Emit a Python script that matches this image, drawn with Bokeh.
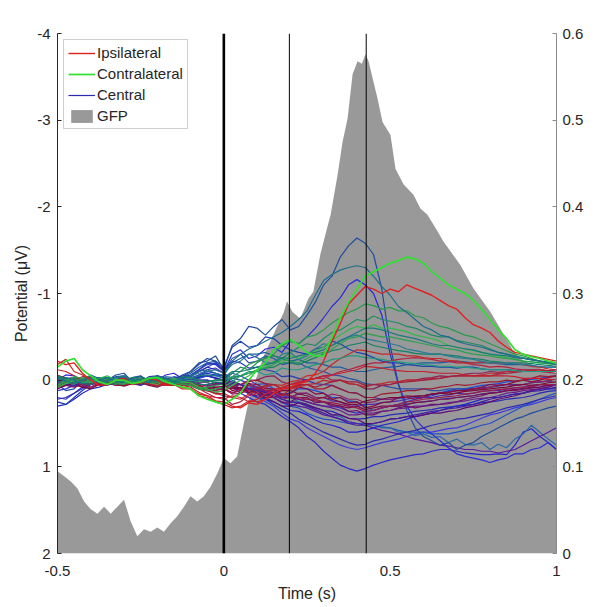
from bokeh.plotting import figure
from bokeh.models import Range1d, LinearAxis, FixedTicker, Span, Label, Legend, LegendItem
from bokeh.embed import file_html
from bokeh.resources import INLINE
import math

# ---------------- data ----------------
times = [-0.5, -0.475, -0.45, -0.425, -0.4, -0.375, -0.35, -0.325, -0.3, -0.275,
         -0.25, -0.225, -0.2, -0.175, -0.15, -0.125, -0.1, -0.075, -0.05, -0.025,
         0.0, 0.025, 0.05, 0.075, 0.1, 0.125, 0.15, 0.175, 0.2, 0.225,
         0.25, 0.275, 0.3, 0.325, 0.35, 0.375, 0.4, 0.425, 0.45, 0.475,
         0.5, 0.525, 0.55, 0.575, 0.6, 0.625, 0.65, 0.675, 0.7, 0.725,
         0.75, 0.775, 0.8, 0.825, 0.85, 0.875, 0.9, 0.925, 0.95, 0.975, 1.0]

# channel potentials (uV), one list per channel
ch01 = [0.05, 0.12, 0.1, 0.0, -0.05, 0.04, 0.0, -0.06, -0.08, 0.02,
        0.02, -0.04, -0.05, 0.03, 0.05, -0.04, -0.1, -0.2, -0.22, -0.28,
        -0.12, -0.4, -0.48, -0.62, -0.6, -0.52, -0.62, -0.7, -0.58, -0.62,
        -0.75, -0.9, -1.1, -1.2, -1.42, -1.55, -1.64, -1.58, -1.45, -1.05,
        -0.4, 0.05, 0.35, 0.55, 0.65, 0.7, 0.75, 0.72, 0.8, 0.75,
        0.72, 0.65, 0.6, 0.55, 0.5, 0.45, 0.42, 0.38, 0.35, 0.32, 0.3]
ch02 = [0.0, -0.06, -0.05, 0.02, 0.05, 0.0, -0.02, 0.04, 0.03, -0.03,
        -0.05, 0.02, 0.0, -0.06, -0.08, -0.02, -0.05, -0.12, -0.2, -0.18,
        -0.1, -0.3, -0.35, -0.25, -0.28, -0.36, -0.38, -0.32, -0.45, -0.42,
        -0.5, -0.6, -0.72, -0.85, -0.95, -1.1, -1.16, -1.1, -1.0, -0.75,
        -0.3, 0.05, 0.3, 0.45, 0.55, 0.62, 0.7, 0.78, 0.85, 0.88,
        0.9, 0.92, 0.95, 0.92, 0.9, 0.85, 0.85, 0.8, 0.78, 0.72, 0.8]
ch03 = [-0.22, -0.18, -0.2, -0.08, 0.0, 0.06, 0.05, 0.0, -0.02, 0.05,
        0.03, -0.02, 0.0, 0.06, 0.05, 0.1, 0.1, 0.16, 0.18, 0.24,
        0.25, 0.3, 0.32, 0.26, 0.28, 0.22, 0.15, 0.1, 0.08, 0.04,
        0.02, -0.08, -0.22, -0.45, -0.65, -0.88, -0.98, -1.08, -1.05, -1.0,
        -1.05, -1.02, -1.1, -1.06, -1.02, -0.98, -0.92, -0.86, -0.82, -0.72,
        -0.64, -0.6, -0.55, -0.45, -0.38, -0.32, -0.3, -0.28, -0.26, -0.24, -0.22]
ch04 = [-0.15, -0.22, -0.25, -0.12, -0.05, 0.02, 0.05, 0.0, 0.0, 0.04,
        0.02, -0.02, -0.03, 0.02, 0.05, 0.08, 0.1, 0.18, 0.22, 0.25,
        0.28, 0.22, 0.15, 0.0, -0.12, -0.2, -0.35, -0.42, -0.47, -0.4,
        -0.32, -0.28, -0.28, -0.5, -0.72, -0.9, -1.05, -1.2, -1.25, -1.3,
        -1.35, -1.38, -1.42, -1.4, -1.35, -1.25, -1.18, -1.1, -1.05, -1.0,
        -0.92, -0.82, -0.7, -0.58, -0.48, -0.35, -0.3, -0.27, -0.25, -0.22, -0.2]
ch05 = [0.02, -0.03, 0.0, 0.04, 0.05, 0.0, -0.03, 0.02, 0.02, -0.02,
        0.0, 0.03, -0.05, -0.02, 0.02, -0.03, -0.05, -0.1, -0.12, -0.08,
        -0.05, -0.22, -0.3, -0.36, -0.4, -0.45, -0.5, -0.55, -0.62, -0.7,
        -0.8, -0.98, -1.15, -1.22, -1.27, -1.3, -1.32, -1.3, -1.2, -1.08,
        -0.98, -0.85, -0.78, -0.7, -0.62, -0.58, -0.52, -0.5, -0.45, -0.42,
        -0.4, -0.38, -0.35, -0.32, -0.3, -0.27, -0.25, -0.24, -0.22, -0.2, -0.18]
ch06 = [0.05, 0.0, -0.03, 0.03, 0.02, -0.02, 0.0, 0.04, 0.05, 0.0,
        -0.02, 0.02, 0.03, -0.01, 0.0, 0.04, 0.05, 0.1, 0.08, 0.06,
        0.05, -0.04, -0.1, -0.18, -0.22, -0.25, -0.3, -0.4, -0.45, -0.42,
        -0.5, -0.52, -0.58, -0.66, -0.72, -0.78, -0.82, -0.88, -0.86, -0.82,
        -0.84, -0.8, -0.8, -0.74, -0.72, -0.66, -0.62, -0.6, -0.56, -0.52,
        -0.5, -0.46, -0.42, -0.38, -0.34, -0.3, -0.28, -0.25, -0.22, -0.2, -0.2]
ch07 = [-0.03, 0.0, 0.02, -0.02, -0.05, 0.0, 0.03, 0.05, 0.0, 0.02,
        0.04, 0.0, -0.02, 0.02, 0.0, -0.04, -0.03, 0.0, 0.02, 0.0,
        0.0, -0.08, -0.15, -0.12, -0.2, -0.26, -0.28, -0.25, -0.32, -0.38,
        -0.42, -0.4, -0.48, -0.55, -0.58, -0.64, -0.7, -0.68, -0.74, -0.7,
        -0.68, -0.66, -0.62, -0.6, -0.56, -0.52, -0.5, -0.5, -0.46, -0.44,
        -0.42, -0.4, -0.36, -0.32, -0.3, -0.28, -0.26, -0.24, -0.22, -0.2, -0.2]
ch08 = [0.08, 0.04, 0.0, 0.02, 0.03, -0.02, -0.05, 0.0, 0.02, 0.04,
        0.0, 0.03, 0.05, 0.0, -0.02, 0.02, 0.03, 0.08, 0.1, 0.14,
        0.12, 0.06, 0.0, -0.05, -0.12, -0.15, -0.22, -0.2, -0.28, -0.25,
        -0.3, -0.34, -0.38, -0.46, -0.52, -0.58, -0.62, -0.6, -0.64, -0.6,
        -0.6, -0.58, -0.56, -0.52, -0.5, -0.48, -0.45, -0.4, -0.38, -0.36,
        -0.34, -0.32, -0.3, -0.28, -0.26, -0.24, -0.22, -0.21, -0.2, -0.19, -0.18]
ch09 = [0.0, 0.03, 0.05, 0.0, -0.02, 0.03, 0.02, -0.03, -0.04, 0.0,
        0.03, 0.0, 0.0, -0.04, -0.03, 0.0, -0.05, -0.08, -0.1, -0.12,
        -0.08, -0.18, -0.22, -0.3, -0.26, -0.2, -0.2, -0.3, -0.32, -0.24,
        -0.28, -0.36, -0.42, -0.4, -0.46, -0.5, -0.52, -0.48, -0.46, -0.44,
        -0.42, -0.4, -0.36, -0.34, -0.32, -0.3, -0.3, -0.28, -0.26, -0.25,
        -0.24, -0.22, -0.2, -0.2, -0.2, -0.19, -0.18, -0.17, -0.16, -0.15, -0.15]
ch10 = [-0.05, -0.02, 0.0, 0.04, 0.03, 0.0, -0.02, 0.02, 0.0, -0.03,
        -0.04, 0.0, 0.02, 0.0, 0.0, 0.03, 0.02, 0.05, 0.05, 0.02,
        0.03, -0.02, -0.05, -0.08, -0.1, -0.14, -0.15, -0.2, -0.2, -0.18,
        -0.22, -0.26, -0.3, -0.34, -0.36, -0.4, -0.42, -0.44, -0.4, -0.38,
        -0.36, -0.34, -0.33, -0.31, -0.3, -0.3, -0.3, -0.29, -0.28, -0.26,
        -0.25, -0.24, -0.22, -0.21, -0.2, -0.2, -0.2, -0.19, -0.18, -0.17, -0.16]
ch11 = [0.25, 0.28, 0.2, 0.12, 0.05, 0.02, 0.0, -0.04, -0.05, 0.0,
        0.02, -0.02, -0.03, 0.02, 0.0, -0.06, -0.1, -0.18, -0.25, -0.22,
        -0.15, -0.38, -0.45, -0.38, -0.4, -0.5, -0.48, -0.4, -0.35, -0.32,
        -0.3, -0.36, -0.38, -0.45, -0.42, -0.36, -0.32, -0.3, -0.26, -0.22,
        -0.2, -0.2, -0.18, -0.17, -0.16, -0.16, -0.15, -0.15, -0.14, -0.15,
        -0.15, -0.13, -0.12, -0.12, -0.12, -0.11, -0.1, -0.1, -0.1, -0.11, -0.12]
ch12 = [0.0, 0.03, 0.05, 0.0, -0.02, 0.02, 0.03, 0.0, 0.0, 0.04,
        0.02, 0.0, 0.05, 0.02, 0.0, 0.04, 0.05, 0.1, 0.12, 0.16,
        0.15, 0.2, 0.22, 0.16, 0.12, 0.08, 0.05, 0.06, 0.02, 0.0,
        -0.05, -0.06, -0.1, -0.18, -0.25, -0.3, -0.35, -0.34, -0.32, -0.3,
        -0.3, -0.3, -0.28, -0.28, -0.26, -0.25, -0.25, -0.23, -0.22, -0.2,
        -0.2, -0.21, -0.2, -0.2, -0.2, -0.19, -0.18, -0.16, -0.15, -0.13, -0.12]
ch13 = [0.05, 0.02, 0.0, 0.04, 0.05, 0.0, 0.02, 0.05, 0.06, 0.02,
        0.0, 0.03, 0.04, 0.0, 0.02, 0.06, 0.05, 0.1, 0.08, 0.04,
        0.05, 0.12, 0.1, 0.04, 0.05, 0.1, 0.1, 0.18, 0.15, 0.08,
        0.1, 0.16, 0.15, 0.22, 0.2, 0.26, 0.25, 0.32, 0.3, 0.26,
        0.25, 0.2, 0.2, 0.22, 0.2, 0.16, 0.15, 0.14, 0.12, 0.12,
        0.1, 0.08, 0.05, 0.06, 0.05, 0.02, 0.0, 0.02, 0.0, -0.03, -0.05]
ch14 = [0.1, 0.06, 0.05, 0.08, 0.08, 0.04, 0.03, 0.06, 0.05, 0.02,
        0.0, 0.04, 0.06, 0.02, 0.02, 0.05, 0.05, 0.08, 0.1, 0.12,
        0.08, 0.02, 0.05, 0.12, 0.1, 0.15, 0.2, 0.26, 0.25, 0.2,
        0.2, 0.26, 0.25, 0.3, 0.3, 0.36, 0.35, 0.4, 0.4, 0.36,
        0.35, 0.32, 0.3, 0.32, 0.3, 0.28, 0.28, 0.27, 0.25, 0.22,
        0.2, 0.18, 0.15, 0.14, 0.12, 0.12, 0.1, 0.08, 0.05, 0.06, 0.05]
ch15 = [-0.05, -0.02, 0.0, -0.04, -0.03, 0.0, 0.02, 0.04, 0.05, 0.02,
        0.0, 0.02, 0.03, 0.06, 0.05, 0.02, 0.02, 0.06, 0.1, 0.14,
        0.12, 0.08, 0.05, 0.02, 0.0, 0.04, 0.05, 0.1, 0.1, 0.06,
        0.05, 0.1, 0.1, 0.06, 0.1, 0.14, 0.15, 0.2, 0.2, 0.16,
        0.15, 0.14, 0.12, 0.12, 0.1, 0.1, 0.08, 0.07, 0.05, 0.06,
        0.05, 0.03, 0.02, 0.02, 0.0, 0.01, 0.0, -0.02, -0.05, -0.04, -0.05]
ch16 = [0.0, 0.04, 0.05, 0.02, 0.02, 0.06, 0.05, 0.02, 0.0, 0.03,
        0.04, 0.0, 0.0, 0.04, 0.05, 0.02, 0.03, 0.06, 0.05, 0.03,
        0.05, 0.08, 0.1, 0.15, 0.18, 0.2, 0.25, 0.3, 0.3, 0.26,
        0.28, 0.32, 0.35, 0.4, 0.4, 0.44, 0.45, 0.5, 0.5, 0.48,
        0.45, 0.44, 0.42, 0.42, 0.4, 0.38, 0.38, 0.36, 0.35, 0.32,
        0.3, 0.28, 0.25, 0.22, 0.2, 0.18, 0.15, 0.12, 0.1, 0.08, 0.05]
ch17 = [0.03, 0.0, -0.02, 0.02, 0.0, 0.03, 0.04, 0.0, -0.02, 0.0,
        0.02, 0.04, 0.0, 0.0, 0.03, 0.02, 0.0, 0.03, 0.02, 0.0,
        0.0, 0.06, 0.05, 0.0, 0.0, -0.04, -0.05, 0.02, 0.05, 0.02,
        0.0, -0.02, -0.05, 0.0, 0.0, 0.04, 0.05, 0.1, 0.1, 0.06,
        0.05, 0.02, 0.0, 0.0, -0.02, -0.03, -0.05, -0.04, -0.05, -0.07,
        -0.08, -0.08, -0.1, -0.09, -0.1, -0.11, -0.12, -0.12, -0.12, -0.11, -0.1]
ch18 = [0.02, 0.04, 0.05, 0.02, 0.0, 0.02, 0.03, 0.06, 0.05, 0.02,
        0.0, 0.03, 0.02, 0.05, 0.05, 0.02, 0.03, 0.1, 0.15, 0.2,
        0.2, 0.28, 0.25, 0.18, 0.15, 0.14, 0.1, 0.1, 0.05, 0.02,
        0.0, -0.02, -0.05, -0.06, -0.1, -0.12, -0.15, -0.18, -0.2, -0.2,
        -0.22, -0.24, -0.25, -0.26, -0.25, -0.24, -0.22, -0.22, -0.2, -0.2,
        -0.18, -0.17, -0.15, -0.16, -0.15, -0.13, -0.12, -0.11, -0.1, -0.09, -0.08]
ch19 = [0.02, 0.0, 0.05, 0.03, 0.0, -0.03, -0.03, 0.0, 0.02, 0.0,
        0.0, 0.03, -0.02, 0.0, 0.03, 0.02, 0.0, -0.04, -0.05, -0.02,
        0.0, 0.08, 0.1, 0.1, 0.15, 0.22, 0.25, 0.3, 0.35, 0.36,
        0.4, 0.46, 0.5, 0.52, 0.55, 0.6, 0.6, 0.58, 0.55, 0.52,
        0.5, 0.48, 0.45, 0.42, 0.4, 0.38, 0.35, 0.32, 0.3, 0.28,
        0.25, 0.22, 0.2, 0.2, 0.18, 0.16, 0.15, 0.12, 0.1, 0.1, 0.1]
ch20 = [0.3, 0.28, 0.22, 0.15, 0.1, 0.08, 0.05, 0.02, 0.0, 0.03,
        0.03, 0.0, -0.02, 0.0, 0.02, -0.02, 0.0, -0.05, -0.08, -0.06,
        -0.05, 0.08, 0.15, 0.2, 0.25, 0.28, 0.35, 0.42, 0.48, 0.55,
        0.65, 0.72, 0.82, 0.9, 0.98, 1.02, 1.05, 1.02, 0.98, 0.95,
        0.92, 0.9, 0.88, 0.86, 0.85, 0.82, 0.8, 0.8, 0.82, 0.84,
        0.85, 0.86, 0.86, 0.85, 0.86, 0.75, 0.6, 0.56, 0.65, 0.72, 0.8]
ch21 = [0.2, 0.22, 0.15, 0.1, 0.05, 0.02, 0.0, 0.04, 0.03, 0.0,
        -0.02, 0.02, 0.0, 0.03, 0.02, -0.02, -0.03, -0.06, -0.1, -0.08,
        -0.05, 0.04, 0.1, 0.16, 0.2, 0.25, 0.3, 0.38, 0.45, 0.48,
        0.55, 0.6, 0.65, 0.7, 0.75, 0.78, 0.8, 0.78, 0.75, 0.72,
        0.7, 0.68, 0.65, 0.62, 0.6, 0.6, 0.58, 0.56, 0.55, 0.52,
        0.48, 0.44, 0.4, 0.38, 0.35, 0.32, 0.3, 0.28, 0.25, 0.22, 0.2]
ch22 = [0.0, 0.02, 0.03, 0.0, -0.02, 0.0, 0.02, 0.04, 0.03, 0.0,
        0.03, 0.02, 0.0, -0.02, -0.02, 0.0, 0.02, -0.04, -0.1, -0.08,
        -0.05, 0.0, 0.05, 0.1, 0.15, 0.16, 0.2, 0.26, 0.3, 0.32,
        0.38, 0.42, 0.45, 0.46, 0.48, 0.5, 0.5, 0.5, 0.52, 0.54,
        0.55, 0.58, 0.6, 0.6, 0.6, 0.62, 0.62, 0.62, 0.6, 0.58,
        0.55, 0.52, 0.5, 0.45, 0.4, 0.35, 0.3, 0.26, 0.22, 0.18, 0.15]
ch23 = [0.05, 0.02, 0.0, 0.02, 0.03, 0.0, -0.02, -0.03, 0.0, 0.02,
        0.02, 0.0, -0.03, -0.02, 0.0, 0.02, 0.02, 0.0, 0.0, 0.03,
        0.02, 0.04, 0.05, 0.08, 0.1, 0.12, 0.15, 0.18, 0.2, 0.25,
        0.28, 0.32, 0.35, 0.4, 0.42, 0.48, 0.5, 0.52, 0.52, 0.55,
        0.55, 0.6, 0.6, 0.64, 0.62, 0.66, 0.65, 0.72, 0.68, 0.74,
        0.75, 0.72, 0.8, 0.74, 0.78, 0.68, 0.62, 0.52, 0.6, 0.68, 0.75]
ch24 = [0.05, 0.03, 0.02, 0.05, 0.05, 0.02, 0.0, 0.02, 0.03, 0.0,
        0.0, 0.03, 0.05, 0.03, 0.02, 0.0, 0.0, 0.02, 0.03, 0.05,
        0.05, 0.08, 0.1, 0.12, 0.15, 0.18, 0.2, 0.25, 0.28, 0.3,
        0.32, 0.36, 0.4, 0.42, 0.45, 0.48, 0.5, 0.52, 0.55, 0.58,
        0.6, 0.62, 0.65, 0.68, 0.7, 0.72, 0.75, 0.76, 0.78, 0.8,
        0.8, 0.82, 0.82, 0.84, 0.82, 0.8, 0.75, 0.7, 0.65, 0.6, 0.55]
ch25 = [0.0, -0.02, -0.03, 0.0, 0.02, 0.0, 0.0, 0.03, 0.04, 0.02,
        0.0, 0.02, 0.02, 0.0, -0.02, 0.0, 0.0, 0.03, 0.02, 0.0,
        0.0, 0.06, 0.05, 0.06, 0.1, 0.14, 0.15, 0.2, 0.2, 0.16,
        0.15, 0.2, 0.2, 0.24, 0.25, 0.3, 0.3, 0.28, 0.28, 0.26,
        0.25, 0.24, 0.22, 0.2, 0.2, 0.2, 0.18, 0.17, 0.15, 0.16,
        0.15, 0.13, 0.12, 0.12, 0.1, 0.09, 0.08, 0.06, 0.05, 0.06, 0.05]
ch26 = [-0.02, 0.0, 0.03, 0.02, 0.0, 0.03, 0.05, 0.02, 0.0, 0.0,
        0.02, 0.04, 0.04, 0.0, 0.0, 0.02, 0.03, -0.02, -0.05, -0.06,
        -0.02, -0.08, -0.05, 0.0, 0.05, 0.04, 0.1, 0.16, 0.15, 0.1,
        0.1, 0.12, 0.15, 0.2, 0.2, 0.24, 0.25, 0.3, 0.35, 0.32,
        0.3, 0.28, 0.25, 0.22, 0.2, 0.18, 0.15, 0.12, 0.1, 0.1,
        0.08, 0.06, 0.05, 0.04, 0.02, 0.01, 0.0, -0.01, -0.02, -0.04, -0.05]
ch27 = [0.08, 0.05, 0.03, 0.06, 0.05, 0.02, 0.0, 0.03, 0.04, 0.0,
        0.02, 0.05, 0.05, 0.02, 0.0, 0.03, 0.04, 0.08, 0.05, 0.08,
        0.1, 0.16, 0.15, 0.1, 0.1, 0.14, 0.15, 0.22, 0.2, 0.15,
        0.15, 0.2, 0.2, 0.16, 0.18, 0.22, 0.22, 0.26, 0.25, 0.22,
        0.22, 0.2, 0.2, 0.18, 0.18, 0.16, 0.15, 0.14, 0.12, 0.12,
        0.1, 0.1, 0.08, 0.06, 0.05, 0.06, 0.05, 0.03, 0.02, 0.01, 0.0]
ch28 = [-0.02, 0.0, 0.02, 0.03, 0.0, -0.02, -0.03, 0.0, 0.02, 0.0,
        0.0, -0.02, -0.02, 0.01, 0.03, 0.02, 0.0, 0.02, 0.02, 0.0,
        0.0, -0.04, -0.05, -0.1, -0.1, -0.06, -0.08, -0.14, -0.12, -0.12,
        -0.15, -0.18, -0.2, -0.24, -0.25, -0.28, -0.28, -0.26, -0.25, -0.24,
        -0.22, -0.21, -0.2, -0.19, -0.18, -0.17, -0.16, -0.16, -0.15, -0.15,
        -0.14, -0.13, -0.12, -0.12, -0.12, -0.11, -0.1, -0.1, -0.1, -0.1, -0.1]
ch29 = [0.0, 0.02, -0.02, 0.0, 0.03, 0.02, 0.0, -0.03, -0.03, 0.0,
        0.02, 0.0, 0.0, -0.02, -0.02, -0.05, -0.05, -0.1, -0.15, -0.2,
        -0.1, -0.25, -0.3, -0.2, -0.22, -0.28, -0.25, -0.18, -0.2, -0.2,
        -0.15, -0.12, -0.1, -0.06, -0.05, -0.02, 0.0, 0.04, 0.05, 0.06,
        0.08, 0.1, 0.1, 0.1, 0.1, 0.12, 0.12, 0.1, 0.1, 0.1,
        0.1, 0.1, 0.08, 0.07, 0.05, 0.06, 0.05, 0.03, 0.02, 0.01, 0.0]
ch30 = [-0.18, -0.24, -0.1, -0.06, 0.0, 0.05, 0.03, 0.0, 0.0, 0.03,
        0.02, 0.0, 0.04, 0.06, 0.05, 0.08, 0.1, 0.18, 0.2, 0.25,
        0.28, 0.32, 0.3, 0.24, 0.25, 0.22, 0.15, 0.18, 0.1, 0.08,
        0.05, 0.04, 0.0, 0.02, 0.0, 0.04, 0.05, 0.08, 0.05, 0.04,
        0.02, 0.02, 0.0, 0.0, 0.0, -0.02, -0.02, -0.04, -0.05, -0.05,
        -0.05, -0.06, -0.08, -0.08, -0.1, -0.1, -0.1, -0.11, -0.12, -0.11, -0.1]
ch31 = [0.02, 0.04, 0.0, 0.02, 0.05, 0.02, 0.0, 0.02, 0.03, 0.0,
        -0.02, 0.0, 0.0, 0.03, 0.03, 0.0, 0.0, -0.03, -0.05, -0.03,
        0.0, 0.02, 0.05, 0.1, 0.1, 0.12, 0.15, 0.22, 0.25, 0.26,
        0.3, 0.32, 0.35, 0.36, 0.4, 0.44, 0.45, 0.44, 0.42, 0.42,
        0.4, 0.39, 0.38, 0.36, 0.35, 0.34, 0.32, 0.31, 0.3, 0.29,
        0.28, 0.26, 0.25, 0.24, 0.22, 0.21, 0.2, 0.18, 0.15, 0.13, 0.12]
ch32 = [0.05, 0.06, 0.08, 0.05, 0.03, 0.06, 0.05, 0.02, 0.02, 0.05,
        0.05, 0.02, 0.03, 0.06, 0.06, 0.03, 0.04, 0.08, 0.08, 0.1,
        0.1, 0.14, 0.12, 0.1, 0.15, 0.2, 0.2, 0.16, 0.18, 0.22,
        0.22, 0.24, 0.25, 0.28, 0.3, 0.32, 0.3, 0.34, 0.32, 0.3,
        0.3, 0.3, 0.28, 0.26, 0.25, 0.24, 0.22, 0.22, 0.2, 0.19,
        0.18, 0.16, 0.15, 0.14, 0.12, 0.11, 0.1, 0.09, 0.08, 0.06, 0.05]
ch33 = [0.04, 0.02, -0.02, 0.0, 0.03, 0.05, 0.06, 0.02, 0.0, 0.02,
        0.03, 0.0, -0.03, 0.0, 0.04, 0.05, 0.02, 0.04, 0.06, 0.05,
        0.03, 0.02, 0.05, 0.1, 0.1, 0.12, 0.15, 0.2, 0.2, 0.22,
        0.25, 0.28, 0.3, 0.32, 0.35, 0.4, 0.4, 0.38, 0.38, 0.36,
        0.35, 0.33, 0.32, 0.3, 0.3, 0.29, 0.28, 0.26, 0.25, 0.24,
        0.22, 0.21, 0.2, 0.18, 0.15, 0.14, 0.12, 0.11, 0.1, 0.08, 0.05]
ch34 = [-0.06, -0.02, 0.02, 0.0, -0.04, 0.0, 0.03, 0.05, 0.06, 0.02,
        -0.02, 0.02, 0.04, 0.02, 0.0, 0.03, 0.06, 0.1, 0.12, 0.15,
        0.18, 0.2, 0.15, 0.12, 0.1, 0.06, 0.05, 0.1, 0.08, 0.05,
        0.05, 0.08, 0.05, 0.02, 0.0, 0.02, 0.02, 0.06, 0.05, 0.06,
        0.05, 0.03, 0.02, 0.01, 0.0, -0.01, -0.02, -0.04, -0.05, -0.05,
        -0.05, -0.05, -0.05, -0.07, -0.08, -0.09, -0.1, -0.1, -0.1, -0.11, -0.12]
ch35 = [0.12, 0.1, 0.06, 0.02, -0.02, 0.0, 0.04, 0.02, -0.03, 0.0,
        0.02, 0.04, 0.05, 0.0, -0.04, -0.02, 0.0, -0.06, -0.12, -0.14,
        -0.08, -0.02, 0.0, 0.04, 0.08, 0.08, 0.12, 0.18, 0.2, 0.22,
        0.25, 0.28, 0.3, 0.3, 0.32, 0.36, 0.38, 0.36, 0.35, 0.32,
        0.3, 0.3, 0.28, 0.26, 0.25, 0.24, 0.22, 0.21, 0.2, 0.19,
        0.18, 0.16, 0.15, 0.14, 0.12, 0.11, 0.1, 0.09, 0.08, 0.06, 0.05]
ch36 = [-0.04, 0.0, 0.03, 0.0, -0.06, -0.02, 0.02, 0.0, -0.03, 0.0,
        0.04, 0.0, -0.05, -0.02, 0.02, -0.03, -0.08, -0.15, -0.2, -0.22,
        -0.1, -0.2, -0.25, -0.3, -0.3, -0.32, -0.28, -0.25, -0.22, -0.24,
        -0.2, -0.2, -0.18, -0.15, -0.15, -0.12, -0.1, -0.1, -0.12, -0.14,
        -0.15, -0.16, -0.18, -0.19, -0.2, -0.2, -0.2, -0.21, -0.22, -0.21,
        -0.2, -0.2, -0.2, -0.19, -0.18, -0.18, -0.18, -0.17, -0.15, -0.15, -0.15]
ch37 = [0.06, 0.02, -0.04, -0.02, 0.02, 0.0, -0.02, 0.02, 0.04, 0.02,
        0.0, -0.02, -0.04, 0.0, 0.03, 0.05, 0.06, 0.1, 0.12, 0.1,
        0.08, 0.02, -0.05, -0.08, -0.12, -0.14, -0.18, -0.24, -0.22, -0.2,
        -0.25, -0.3, -0.32, -0.36, -0.42, -0.48, -0.5, -0.54, -0.52, -0.5,
        -0.5, -0.48, -0.46, -0.44, -0.42, -0.4, -0.38, -0.36, -0.35, -0.32,
        -0.3, -0.29, -0.28, -0.26, -0.25, -0.24, -0.22, -0.21, -0.2, -0.19, -0.18]
ch38 = [0.08, 0.06, 0.04, 0.08, 0.1, 0.05, 0.02, 0.05, 0.07, 0.04,
        0.03, 0.06, 0.08, 0.04, 0.01, 0.04, 0.06, 0.1, 0.1, 0.08,
        0.07, 0.1, 0.08, 0.14, 0.12, 0.18, 0.15, 0.12, 0.12, 0.16,
        0.18, 0.22, 0.2, 0.22, 0.25, 0.28, 0.28, 0.24, 0.22, 0.22,
        0.2, 0.2, 0.18, 0.19, 0.18, 0.16, 0.15, 0.16, 0.15, 0.13,
        0.12, 0.11, 0.1, 0.09, 0.08, 0.06, 0.05, 0.06, 0.05, 0.03, 0.02]
ch39 = [0.22, 0.2, 0.15, 0.08, 0.04, 0.0, -0.03, 0.0, 0.02, -0.02,
        -0.04, 0.0, 0.03, 0.0, -0.02, -0.04, -0.04, -0.1, -0.15, -0.12,
        -0.08, 0.04, 0.1, 0.14, 0.2, 0.22, 0.28, 0.34, 0.38, 0.45,
        0.5, 0.55, 0.6, 0.64, 0.68, 0.72, 0.75, 0.74, 0.7, 0.68,
        0.65, 0.62, 0.6, 0.58, 0.55, 0.52, 0.5, 0.48, 0.45, 0.44,
        0.42, 0.4, 0.38, 0.35, 0.32, 0.3, 0.28, 0.25, 0.22, 0.2, 0.18]
ch40 = [0.03, 0.05, 0.07, 0.02, 0.0, 0.03, 0.05, 0.04, 0.02, 0.04,
        0.06, 0.02, -0.02, 0.02, 0.04, 0.02, 0.02, 0.0, 0.0, 0.03,
        0.04, 0.04, 0.05, 0.1, 0.12, 0.14, 0.18, 0.22, 0.25, 0.26,
        0.3, 0.34, 0.38, 0.42, 0.45, 0.5, 0.52, 0.52, 0.5, 0.48,
        0.45, 0.44, 0.42, 0.4, 0.38, 0.36, 0.35, 0.33, 0.32, 0.3,
        0.28, 0.25, 0.22, 0.2, 0.18, 0.16, 0.15, 0.13, 0.12, 0.1, 0.08]
ch41 = [-0.03, 0.01, 0.04, 0.0, -0.02, 0.0, 0.01, -0.03, -0.05, 0.0,
        0.03, 0.0, -0.02, 0.02, 0.04, 0.0, -0.02, -0.05, -0.06, -0.05,
        -0.03, -0.1, -0.1, -0.12, -0.15, -0.18, -0.2, -0.26, -0.25, -0.28,
        -0.3, -0.32, -0.35, -0.4, -0.45, -0.5, -0.55, -0.6, -0.6, -0.58,
        -0.55, -0.52, -0.5, -0.48, -0.45, -0.42, -0.4, -0.4, -0.38, -0.36,
        -0.35, -0.32, -0.3, -0.29, -0.28, -0.26, -0.25, -0.23, -0.22, -0.21, -0.2]
ch42 = [0.06, 0.04, 0.02, 0.05, 0.08, 0.04, 0.0, 0.03, 0.05, 0.04,
        0.02, 0.05, 0.07, 0.05, 0.03, 0.06, 0.06, 0.1, 0.12, 0.12,
        0.1, 0.15, 0.12, 0.06, 0.08, 0.12, 0.12, 0.16, 0.18, 0.2,
        0.22, 0.22, 0.25, 0.26, 0.28, 0.3, 0.32, 0.36, 0.35, 0.32,
        0.3, 0.28, 0.25, 0.24, 0.22, 0.21, 0.2, 0.19, 0.18, 0.16,
        0.15, 0.13, 0.12, 0.11, 0.1, 0.09, 0.08, 0.07, 0.05, 0.05, 0.05]
ch43 = [-0.05, -0.02, 0.02, 0.0, -0.03, 0.02, 0.05, 0.02, -0.02, 0.0,
        0.02, 0.0, -0.05, -0.02, 0.0, -0.04, -0.06, -0.12, -0.18, -0.2,
        -0.12, -0.22, -0.2, -0.14, -0.15, -0.12, -0.1, -0.04, -0.05, -0.02,
        0.0, 0.04, 0.05, 0.06, 0.1, 0.14, 0.15, 0.2, 0.2, 0.22,
        0.22, 0.21, 0.2, 0.19, 0.18, 0.16, 0.15, 0.13, 0.12, 0.11,
        0.1, 0.09, 0.08, 0.06, 0.05, 0.05, 0.05, 0.03, 0.02, 0.01, 0.0]
ch44 = [-0.12, -0.1, -0.05, 0.0, 0.03, 0.02, 0.0, 0.03, 0.05, 0.03,
        0.02, 0.04, 0.06, 0.04, 0.03, 0.06, 0.08, 0.14, 0.18, 0.2,
        0.22, 0.18, 0.2, 0.25, 0.22, 0.16, 0.12, 0.08, 0.05, 0.04,
        0.0, -0.02, -0.02, -0.06, -0.08, -0.1, -0.12, -0.16, -0.15, -0.14,
        -0.12, -0.11, -0.1, -0.1, -0.1, -0.09, -0.08, -0.08, -0.08, -0.06,
        -0.05, -0.05, -0.05, -0.05, -0.05, -0.04, -0.02, -0.02, -0.02, -0.01, 0.0]

# drawing order: blues, purples/reds, greens, highlighted
channels = [ch20, ch21, ch22, ch23, ch24, ch19, ch31, ch26, ch29, ch11, ch02, ch01, ch35, ch36, ch39, ch43,
            ch25, ch16, ch14, ch32, ch27, ch13, ch17, ch15, ch18, ch12, ch30, ch33, ch34, ch38, ch40, ch42, ch44,
            ch28, ch10, ch09, ch07, ch08, ch06, ch37, ch41, ch05, ch03, ch04]
channel_colors = ["#2828c8", "#3a3ae0", "#2050c4", "#2a6aa6", "#5a1aa0", "#2020d0", "#2828b8", "#1a4ad6", "#3050a8", "#2040b0", "#2a2ad8", "#1f4c9c", "#3535c8", "#1d5e9e", "#2a2ab0", "#2a3ab8",
                  "#4a2ab4", "#600a78", "#72106a", "#7a1250", "#902060", "#8b0a40", "#8a2058", "#a01830", "#b52040", "#c42a2a", "#c02828", "#6a1a8a", "#a02040", "#7a0a3a", "#4020a0", "#9a1a4a", "#c81e2e",
                  "#209a80", "#138262", "#2a7a96", "#1f8a60", "#34b84a", "#2a9a4a", "#2aa050", "#1a7a7a", "#1a6e8c", "#e02020", "#30e030"]
channel_widths = [1.2] * 42 + [1.4, 1.7]

gfp_t = [-0.50, -0.48, -0.46, -0.44, -0.42, -0.40, -0.38, -0.36, -0.34, -0.32, -0.30, -0.28, -0.26, -0.24,
         -0.22, -0.20, -0.18, -0.16, -0.14, -0.12, -0.10, -0.08, -0.06, -0.04, -0.02, 0.00, 0.02, 0.04,
         0.06, 0.08, 0.10, 0.12, 0.14, 0.16, 0.18, 0.19, 0.206, 0.23, 0.254, 0.269, 0.29, 0.31, 0.321,
         0.342, 0.357, 0.372, 0.387, 0.402, 0.415, 0.426, 0.435, 0.462, 0.477, 0.501, 0.516, 0.54, 0.57,
         0.591, 0.612, 0.642, 0.66, 0.711, 0.75, 0.801, 0.841, 0.871, 0.892, 0.92, 0.95, 0.975, 1.0]
gfp_v = [0.095, 0.089, 0.083, 0.075, 0.060, 0.051, 0.046, 0.054, 0.046, 0.054, 0.062, 0.037, 0.020, 0.028,
         0.025, 0.030, 0.025, 0.035, 0.043, 0.054, 0.066, 0.060, 0.066, 0.077, 0.092, 0.110, 0.104, 0.112,
         0.150, 0.185, 0.205, 0.228, 0.245, 0.262, 0.278, 0.291, 0.279, 0.271, 0.294, 0.302, 0.345, 0.375, 0.391,
         0.437, 0.475, 0.502, 0.553, 0.568, 0.565, 0.576, 0.568, 0.525, 0.498, 0.483, 0.444, 0.426, 0.414,
         0.398, 0.391, 0.372, 0.360, 0.333, 0.306, 0.279, 0.253, 0.233, 0.225, 0.219, 0.214, 0.211, 0.208]

marker_times = [0.197, 0.428]
marker_labels = ["197ms", "428ms"]
legend_labels = ["Ipsilateral", "Contralateral", "Central", "GFP"]

x_ticks = [-0.5, 0, 0.5, 1]
y_ticks = [-4, -3, -2, -1, 0, 1, 2]
gfp_ticks = [0, 0.1, 0.2, 0.3, 0.4, 0.5, 0.6]

FONT = "Liberation Sans"
TXT = "#262626"

# ---------------- figure ----------------
p = figure(width=612, height=607, output_backend="svg", toolbar_location=None,
           x_range=Range1d(-0.5, 1.0), y_range=Range1d(2, -4),
           min_border_left=57, min_border_right=56, min_border_top=33, min_border_bottom=54)
p.extra_y_ranges = {"gfp": Range1d(0, 0.6)}
p.grid.visible = False
p.outline_line_color = None
p.background_fill_color = "white"
p.border_fill_color = "white"

# GFP area
gfp_r = p.varea(x=gfp_t, y1=[0] * len(gfp_t), y2=gfp_v, y_range_name="gfp",
                fill_color="#999999", fill_alpha=1.0)

# channel traces
rend = {}
for vals, col, w in zip(channels, channel_colors, channel_widths):
    rend[id(vals)] = p.line(times, vals, line_color=col, line_width=w)

# marker lines
p.add_layout(Span(location=0, dimension="height", line_color="black", line_width=2.6))
for mt, ml in zip(marker_times, marker_labels):
    p.add_layout(Span(location=mt, dimension="height", line_color="black", line_width=1))
    p.add_layout(Label(x=mt, y=-4, text=ml, text_align="center", text_baseline="bottom",
                       y_offset=5, text_font=FONT, text_font_size="15px", text_color=TXT))

# axes
xa = p.xaxis[0]
xa.ticker = FixedTicker(ticks=x_ticks)
xa.major_label_overrides = {-0.5: "-0.5", 0: "0", 0.5: "0.5", 1: "1"}
xa.axis_line_color = None
xa.major_tick_line_color = None
xa.minor_tick_line_color = None
xa.major_label_standoff = 6
xa.axis_label = "Time (s)"
xa.axis_label_standoff = 6

ya = p.yaxis[0]
ya.ticker = FixedTicker(ticks=y_ticks)
ya.major_label_overrides = {v: str(v) for v in y_ticks}
ya.axis_line_color = "#262626"
ya.major_tick_line_color = "#262626"
ya.major_tick_in = 4
ya.major_tick_out = 0
ya.minor_tick_line_color = None
ya.major_label_standoff = 7
ya.axis_label = "Potential (\u03bcV)"
ya.axis_label_standoff = 4

ra = LinearAxis(y_range_name="gfp", ticker=FixedTicker(ticks=gfp_ticks))
ra.major_label_overrides = {0: "0", 0.1: "0.1", 0.2: "0.2", 0.3: "0.3", 0.4: "0.4", 0.5: "0.5", 0.6: "0.6"}
ra.axis_line_color = "#8c8c8c"
ra.major_tick_line_color = "#8c8c8c"
ra.major_tick_in = 4
ra.major_tick_out = 0
ra.minor_tick_line_color = None
ra.major_label_standoff = 6
p.add_layout(ra, "right")

for ax in [xa, ya, ra]:
    ax.major_label_text_font = FONT
    ax.major_label_text_font_size = "15px"
    ax.major_label_text_color = TXT
    ax.axis_label_text_font = FONT
    ax.axis_label_text_font_size = "16px"
    ax.axis_label_text_font_style = "normal"
    ax.axis_label_text_color = TXT

# right axis label drawn as text reading bottom-to-top
p.add_layout(Label(x=1.0, y=-1.0, x_offset=42, text="GFP (\u03bcV)", angle=math.pi / 2,
                   text_align="center", text_baseline="middle",
                   text_font=FONT, text_font_size="16px", text_color=TXT))

# legend (uses representative traces of each group)
items = [LegendItem(label=legend_labels[0], renderers=[rend[id(ch03)]]),
         LegendItem(label=legend_labels[1], renderers=[rend[id(ch04)]]),
         LegendItem(label=legend_labels[2], renderers=[rend[id(ch39)]]),
         LegendItem(label=legend_labels[3], renderers=[gfp_r])]
legend = Legend(items=items, location="top_left")
legend.margin = 6
legend.padding = 4
legend.spacing = 4
legend.glyph_width = 27
legend.glyph_height = 16
legend.label_height = 16
legend.label_standoff = 2
legend.label_text_font = FONT
legend.label_text_font_size = "15px"
legend.label_text_color = TXT
legend.border_line_color = "#a0a0a0"
legend.border_line_width = 1
legend.background_fill_color = "white"
legend.background_fill_alpha = 1.0
p.add_layout(legend)

open("out.html", "w").write(file_html(p, INLINE))
